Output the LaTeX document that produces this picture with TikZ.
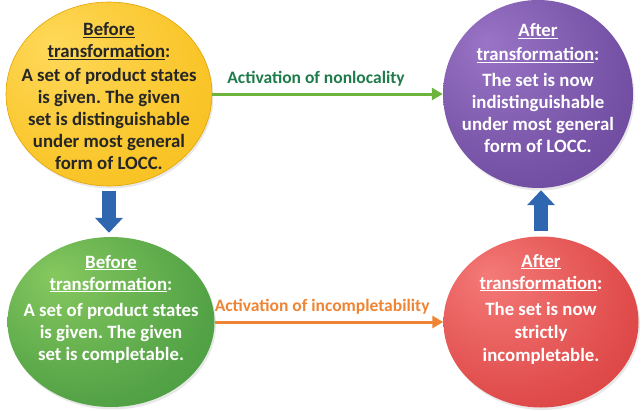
\documentclass[tikz,border=0pt]{standalone}
\usepackage{fontspec}
\setmainfont{Carlito}
\frenchspacing
\usetikzlibrary{shapes.geometric,arrows.meta,shadows}

\definecolor{ylwIn}{HTML}{FFD95A}
\definecolor{ylwOut}{HTML}{F4B400}
\definecolor{ylwEdge}{HTML}{E3A400}
\definecolor{pplIn}{HTML}{9A74C6}
\definecolor{pplOut}{HTML}{56358A}
\definecolor{grnIn}{HTML}{86C85F}
\definecolor{grnOut}{HTML}{2C8633}
\definecolor{redIn}{HTML}{F47A78}
\definecolor{redOut}{HTML}{CF2727}
\definecolor{blueArr}{HTML}{2F66B0}
\definecolor{grnArr}{HTML}{6CB43C}
\definecolor{grnLbl}{HTML}{1F7B4B}
\definecolor{orgArr}{HTML}{EE8434}
\definecolor{darkTxt}{HTML}{262626}

% highlight sits up and to the left
\pgfdeclareradialshading[ballin,ballout]{softball}{\pgfpoint{-14bp}{14bp}}{color(0bp)=(ballin); color(30bp)=(ballin!45!ballout); color(66bp)=(ballout)}

\newcommand{\hd}[1]{\underline{#1}}

\tikzset{
  ball/.style 2 args={ellipse, inner sep=0pt,
    /utils/exec={\colorlet{ballin}{#1}\colorlet{ballout}{#2}},
    shading=softball,
    drop shadow={opacity=0.18, shadow xshift=1.5pt, shadow yshift=-2.5pt}},
  balltext/.style={align=center, font=\fontsize{18.8}{22}\selectfont\bfseries},
  linkarrow/.style={line width=3pt, -{Triangle[length=11pt,width=12pt]}},
  linklabel/.style={font=\fontsize{17.5}{20}\selectfont\bfseries, above=3pt},
  blockarrow/.style={blueArr, line width=14pt, -{Triangle[length=15pt,width=27pt]}}
}

\begin{document}
\begin{tikzpicture}[x=1pt,y=1pt]
\useasboundingbox (0,0) rectangle (642,-410);

% the four states
\node[ball={ylwIn}{ylwOut}, draw=ylwEdge, line width=0.6pt,
  minimum width=206pt, minimum height=184pt] (before1) at (109,-94) {};
\node[ball={pplIn}{pplOut}, minimum width=190pt, minimum height=188pt] (after1) at (538,-94) {};
\node[ball={grnIn}{grnOut}, minimum width=207pt, minimum height=170pt] (before2) at (111,-322) {};
\node[ball={redIn}{redOut}, minimum width=195pt, minimum height=171pt] (after2) at (541,-322) {};

% texts
\node[balltext, text=darkTxt] at ([yshift=-2pt]before1.center)
  {\hd{Before}\\ \hd{transformation}:\\[2pt] A set of product states\\ is given. The given\\ set is distinguishable\\ under most general\\ form of LOCC.};
\node[balltext, text=white] at ([yshift=6pt]after1.center)
  {\hd{After}\\[2pt] \hd{transformation}:\\[4pt] The set is now\\ indistinguishable\\ under most general\\ form of LOCC.};
\node[balltext, text=white] at ([yshift=13pt]before2.center)
  {\hd{Before}\\ \hd{transformation}:\\[4pt] A set of product states\\ is given. The given\\ set is completable.};
\node[balltext, text=white] at ([yshift=13pt]after2.center)
  {\hd{After}\\ \hd{transformation}:\\[4pt] The set is now\\[1pt] strictly\\[1pt] incompletable.};

% arrows
\draw[linkarrow, grnArr] (before1.east) -- node[linklabel, text=grnLbl, pos=0.45] {Activation of nonlocality} (after1.west);
\draw[linkarrow, orgArr] (before2.east) -- node[linklabel, text=orgArr, pos=0.47] {Activation of incompletability} (after2.west);
\draw[blockarrow] ([yshift=-5pt]before1.south) -- ([yshift=4pt]before1.south |- before2.north);
\draw[blockarrow] ([yshift=5pt]after2.north) -- ([yshift=-2pt]after2.north |- after1.south);

\end{tikzpicture}
\end{document}
